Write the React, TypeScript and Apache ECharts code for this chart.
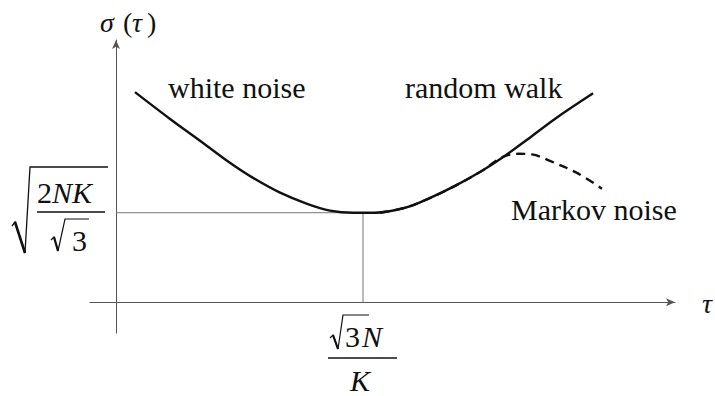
import React, { useEffect, useRef } from "react";
import * as echarts from "echarts";

// Allan-deviation style curve: white noise branch, random walk branch
const curveTau = [0.73, 2.08, 3.35, 4.38, 5.27, 6.31, 7.35, 8.23, 9.12, 9.5, 9.96, 11.12, 12.0, 13.04, 14.08, 14.85, 15.85, 16.88, 18.35];
const curveSigma = [6.81, 5.94, 5.16, 4.52, 4.03, 3.55, 3.19, 2.97, 2.9, 2.9, 2.9, 3.06, 3.35, 3.77, 4.26, 4.68, 5.29, 5.94, 6.77];

// Markov noise branch (dashed), bending away after the random walk rise
const markovTau = [10.15, 11.12, 12.0, 13.04, 14.08, 14.88, 15.5, 16.0, 16.69, 17.73, 18.69];
const markovSigma = [2.9, 3.06, 3.35, 3.77, 4.26, 4.71, 4.81, 4.79, 4.58, 4.19, 3.68];

// Axis ranges
const tauRange = [-1, 21.5];
const sigmaRange = [-1, 8.5];

const FAMILY = "'Liberation Serif', 'Times New Roman', 'DejaVu Serif', serif";

// text placed by its left edge and baseline
function txt(text: string, x: number, baseline: number, size: number, italic = false) {
  return {
    type: "text",
    x,
    y: baseline - 0.82 * size,
    style: {
      text,
      font: (italic ? "italic " : "") + size + "px " + FAMILY,
      fill: "#111",
    },
  };
}

function stroke(points: number[][], width: number) {
  return {
    type: "polyline",
    silent: true,
    shape: { points },
    style: { stroke: "#111", lineWidth: width, fill: null, lineJoin: "miter" },
  };
}

export default function App() {
  const ref = useRef<HTMLDivElement>(null);

  useEffect(() => {
    if (!ref.current) return;
    const chart = echarts.init(ref.current, undefined, { renderer: "svg" });

    const curve = curveTau.map((t, i) => [t, curveSigma[i]]);
    const markov = markovTau.map((t, i) => [t, markovSigma[i]]);

    // point of minimum deviation, used for the guide lines
    let minIdx = 0;
    curveSigma.forEach((s, i) => {
      if (s < curveSigma[minIdx]) minIdx = i;
    });
    const middle = curveTau.indexOf(9.5);
    if (middle >= 0) minIdx = middle;
    const tMin = curveTau[minIdx];
    const sMin = curveSigma[minIdx];

    const axisCommon = {
      type: "value",
      axisTick: { show: false },
      axisLabel: { show: false },
      splitLine: { show: false },
    };

    chart.setOption({
      animation: false,
      grid: { left: 90, right: 40, top: 40, bottom: 63 },
      xAxis: {
        ...axisCommon,
        min: tauRange[0],
        max: tauRange[1],
        axisLine: {
          onZero: true,
          symbol: ["none", "arrow"],
          symbolSize: [6, 9],
          lineStyle: { color: "#555", width: 1 },
        },
      },
      yAxis: {
        ...axisCommon,
        min: sigmaRange[0],
        max: sigmaRange[1],
        axisLine: {
          onZero: true,
          symbol: ["none", "arrow"],
          symbolSize: [6, 9],
          lineStyle: { color: "#555", width: 1 },
        },
      },
      series: [
        {
          name: "guide",
          type: "line",
          data: [
            [0, sMin],
            [tMin, sMin],
            [tMin, 0],
          ],
          symbol: "none",
          silent: true,
          z: 1,
          lineStyle: { color: "#777", width: 1 },
        },
        {
          name: "markov",
          type: "line",
          data: markov,
          smooth: 0.35,
          symbol: "none",
          z: 2,
          lineStyle: { color: "#111", width: 2.4, type: [9, 6] },
        },
        {
          name: "sigma",
          type: "line",
          data: curve,
          smooth: 0.35,
          symbol: "none",
          z: 3,
          lineStyle: { color: "#111", width: 2.4 },
        },
      ],
      graphic: [
        txt("white noise", 168, 97, 30),
        txt("random walk", 405, 97, 30),
        txt("Markov noise", 511, 219, 30),
        // σ (τ)
        txt("σ", 100, 31, 28, true),
        txt("(", 123, 31, 28),
        txt("τ", 132, 31, 28, true),
        txt(")", 147, 31, 28),
        // sqrt(2NK / sqrt3)
        txt("2", 37, 202, 30),
        txt("NK", 52, 202, 30, true),
        txt("3", 72, 250, 30),
        stroke([[12, 226], [15, 222], [25, 253], [30, 167], [108, 167]], 1.3),
        stroke([[15, 222], [25, 253]], 2.6),
        stroke([[37, 212], [105, 212]], 1.5),
        stroke([[51, 240], [54, 237], [58, 251], [65, 219], [89, 219]], 1.2),
        stroke([[54, 237], [58, 251]], 2.2),
        // sqrt3 N / K
        txt("3", 345, 346, 30),
        txt("N", 362, 346, 30, true),
        txt("K", 350, 390, 30, true),
        stroke([[330, 338], [333, 335], [338, 349], [343, 315], [369, 315]], 1.2),
        stroke([[333, 335], [338, 349]], 2.2),
        stroke([[328, 358], [397, 358]], 1.5),
      ],
    });

    return () => chart.dispose();
  }, []);

  return (
    <div>
      <div
        ref={ref}
        style={{ position: "absolute", left: 0, top: 0, width: 715, height: 396 }}
      />
      <p
        style={{
          position: "absolute",
          left: 702,
          top: 290,
          margin: 0,
          fontSize: 28,
          lineHeight: 1,
          fontStyle: "italic",
          fontFamily: FAMILY,
          color: "#111",
        }}
      >
        τ
      </p>
    </div>
  );
}
